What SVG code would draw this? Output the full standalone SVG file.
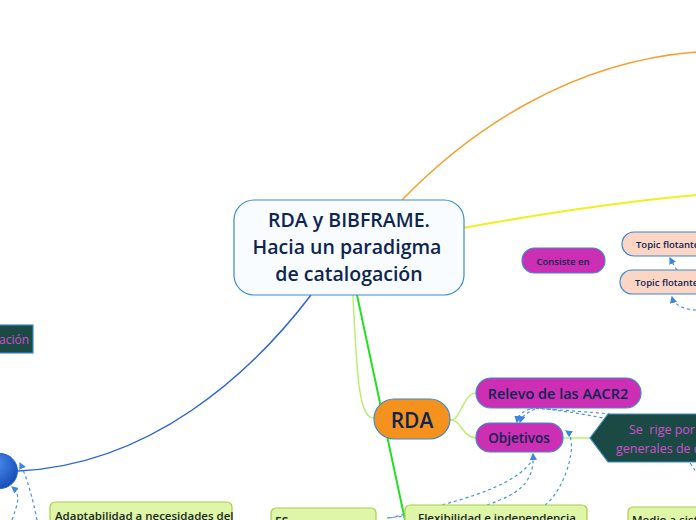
<svg xmlns="http://www.w3.org/2000/svg" width="696" height="520" viewBox="0 0 696 520">
<defs>
<radialGradient id="gBlue" cx="0.35" cy="0.3" r="0.8">
<stop offset="0" stop-color="#4f8ef0"/>
<stop offset="1" stop-color="#1048b0"/>
</radialGradient>
<marker id="arr" viewBox="0 0 6 6" refX="5" refY="3" markerWidth="6" markerHeight="6" orient="auto">
<path d="M0,0 L6,3 L0,6 z" fill="#3a86e0"/>
</marker>
</defs>
<style>
text{font-family:"Open Sans","Noto Sans",sans-serif;font-weight:600;white-space:pre;}
.dash{fill:none;stroke:#4a90e2;stroke-width:1.2;stroke-dasharray:3,3;}
.mag{fill:#cc2eb4;stroke:#3a8ad0;stroke-width:1.2;}
.green{fill:#dff5a8;stroke:#a8d048;stroke-width:1.2;}
.peach{fill:#fdd5c5;stroke:#3a8ad0;stroke-width:1.2;}
.dk{fill:#0d2550;}
.pk{fill:#d050d0;font-weight:normal;}
.lg{fill:none;stroke:#b8f070;stroke-width:1.5;}
</style>
<rect width="696" height="520" fill="#ffffff"/>
<g id="connectors">
<path d="M402,200 C470,130 570,62 696,52" fill="none" stroke="#f5a030" stroke-width="1.5"/>
<path d="M463,228 C540,214 620,202 696,195" fill="none" stroke="#f0f020" stroke-width="2"/>
<path d="M311,295 C250,375 150,465 18,471" fill="none" stroke="#2a62e0" stroke-width="1.5"/>
<path d="M353,295 C357,385 360,418 374,418" class="lg"/>
<path d="M357,295 L405,520" fill="none" stroke="#22e022" stroke-width="2"/>
<path d="M450,420 C462,420 462,393 477,393" class="lg"/>
<path d="M450,420 C462,420 462,438 477,438" class="lg"/>
<path d="M563,438 L590,438" class="lg"/>
<path d="M530,409 C522,412 518,415 517,422" class="dash" marker-end="url(#arr)"/>
<path d="M535,409 C527,413 522,416 520,422" class="dash" marker-end="url(#arr)"/>
<path d="M530,408 C560,410 590,412 610,414" class="dash"/>
<path d="M540,408 C570,412 595,416 612,420" class="dash"/>
<path d="M487,505 C515,495 535,485 533,454" class="dash" marker-end="url(#arr)"/>
<path d="M390,518 C440,505 520,490 535,455" class="dash"/>
<path d="M545,505 C565,490 580,440 566,431" class="dash" marker-end="url(#arr)"/>
<path d="M690,463 C694,468 696,472 698,476" class="dash"/>
<path d="M387,518 C393,517 398,517 405,516" class="dash"/>
<path d="M677,270 C674,266 672,262 670,258" class="dash" marker-end="url(#arr)"/>
<path d="M696,310 C685,310 674,305 672,297" class="dash" marker-end="url(#arr)"/>
<path d="M37,520 C33,500 28,480 20,463" class="dash" marker-end="url(#arr)"/>
<path d="M12,520 C17,505 22,495 12,487" class="dash" marker-end="url(#arr)"/>
</g>
<g id="central">
<rect x="234" y="200" width="230" height="95" rx="20" fill="#f8fcff" stroke="#3a8ad0" stroke-width="1.2"/>
<text x="349" y="227" font-size="19.5" text-anchor="middle" class="dk">RDA y BIBFRAME.</text>
<text x="347" y="254" font-size="19.5" text-anchor="middle" class="dk">Hacia un paradigma</text>
<text x="349" y="281" font-size="19.5" text-anchor="middle" class="dk">de catalogación</text>
</g>
<g id="rda">
<rect x="374" y="399" width="76" height="40" rx="20" fill="#f5921e" stroke="#3a8ad0" stroke-width="1.2"/>
<text x="412" y="428" font-size="21" text-anchor="middle" class="dk">RDA</text>
</g>
<g id="relevo">
<rect x="476" y="378" width="165" height="30" rx="15" class="mag"/>
<text x="558" y="399" font-size="14.5" text-anchor="middle" class="dk">Relevo de las AACR2</text>
</g>
<g id="objetivos">
<rect x="476" y="423" width="87" height="29" rx="14" class="mag"/>
<text x="519" y="443" font-size="13.5" text-anchor="middle" class="dk">Objetivos</text>
</g>
<g id="serige">
<path d="M590,438 L608,414 L700,414 L700,462 L608,462 Z" fill="#1b4a44" stroke="#3a8ad0" stroke-width="1.2"/>
<text x="629" y="434" font-size="12.5" class="pk">Se  rige por l</text>
<text x="616" y="453" font-size="12.5" class="pk">generales de ca</text>
</g>
<g id="consiste">
<rect x="522" y="248" width="83" height="25" rx="12.5" class="mag"/>
<text x="563" y="264.5" font-size="9.5" text-anchor="middle" class="dk">Consiste en</text>
</g>
<g id="topic1">
<rect x="622" y="232" width="90" height="24" rx="12" class="peach"/>
<text x="636" y="247.5" font-size="9.5" class="dk">Topic flotante</text>
</g>
<g id="topic2">
<rect x="620" y="270" width="90" height="24" rx="12" class="peach"/>
<text x="635" y="285.5" font-size="9.5" class="dk">Topic flotante</text>
</g>
<g id="ubicacion">
<rect x="-10" y="325" width="43" height="28" fill="#1b4a44" stroke="#3a8ad0" stroke-width="1.2"/>
<text x="29" y="344" font-size="12" text-anchor="end" class="pk">ación</text>
</g>
<g id="circle">
<circle cx="0" cy="471" r="17.5" fill="url(#gBlue)" stroke="#2a62e0" stroke-width="1"/>
</g>
<g id="adaptabilidad">
<rect x="50" y="502" width="182" height="30" rx="5" class="green"/>
<text x="55" y="520" font-size="11.5" fill="#1a2a20">Adaptabilidad a necesidades del</text>
</g>
<g id="es">
<rect x="271" y="508" width="105" height="30" rx="5" class="green"/>
<text x="275" y="526" font-size="12" fill="#1a2a20">ES</text>
</g>
<g id="flexibilidad">
<rect x="405" y="505" width="182" height="30" rx="5" class="green"/>
<text x="418" y="522" font-size="11.5" fill="#1a2a20">Flexibilidad e independencia</text>
</g>
<g id="medio">
<rect x="628" y="507" width="80" height="30" rx="5" class="green"/>
<text x="632" y="524" font-size="11.5" fill="#1a2a20">Medio a sist</text>
</g>
</svg>
